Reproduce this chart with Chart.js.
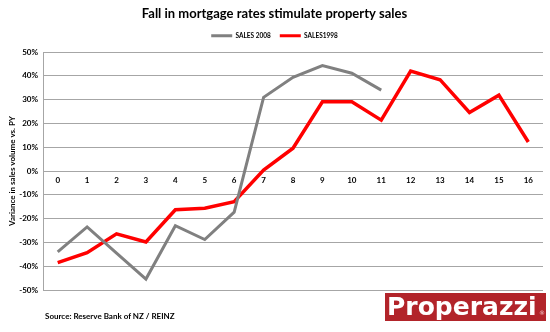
<!DOCTYPE html>
<html>
<head>
<meta charset="utf-8">
<script src="https://cdn.jsdelivr.net/npm/chart.js@4.4.1/dist/chart.umd.min.js"></script>
<style>
  html, body { margin: 0; padding: 0; background: #fff; }
  #wrap { position: relative; width: 550px; height: 332px; }
  #source { position: absolute; left: 45px; top: 311px; font: bold 8px Lato, sans-serif; color: #000; }
  #logo { position: absolute; left: 385px; top: 293px; width: 161px; height: 28px; background: #b2242a; overflow: hidden; }
  #logo .name { position: absolute; left: 2px; top: 0; color: #fff; font: bold 25px "DejaVu Sans", sans-serif;
                line-height: 28px; letter-spacing: 0px; white-space: nowrap; }
  #logo .reg { position: absolute; left: 154px; top: 16px; color: #f3c9cb; font: 6px "DejaVu Sans", sans-serif; }
</style>
</head>
<body>
<div id="wrap">
  <canvas id="chart" width="550" height="332"></canvas>
  <div id="source">Source: Reserve Bank of NZ / REINZ</div>
  <div id="logo"><span class="name">Properazzi</span><span class="reg">®</span></div>
</div>
<script>
const labels = ['0','1','2','3','4','5','6','7','8','9','10','11','12','13','14','15','16'];
// variance in sales volume vs previous year, %
const sales2008 = [-34, -23.5, -34.5, -45.4, -23, -28.8, -17.3, 31, 39.4, 44.3, 41.1, 34];
const sales1998 = [-38.5, -34.3, -26.4, -29.8, -16.3, -15.6, -12.9, 0.4, 9.6, 29.1, 29.1, 21.4, 42, 38.4, 24.6, 31.9, 12.2];

const FONT = 'Lato, sans-serif';

const chart = new Chart(document.getElementById('chart'), {
    type: 'line',
    data: {
        labels: labels,
        datasets: [
            { label: 'SALES 2008', data: sales2008, borderColor: '#808080', backgroundColor: '#808080',
              borderWidth: 3, pointRadius: 0, tension: 0 },
            { label: 'SALES1998', data: sales1998, borderColor: '#ff0000', backgroundColor: '#ff0000',
              borderWidth: 3.5, pointRadius: 0, tension: 0 }
        ]
    },
    options: {
        responsive: false,
        animation: false,
        layout: { padding: { left: 6, right: 7, top: 0, bottom: 42 } },
        plugins: {
            title: {
                display: true,
                text: 'Fall in mortgage rates stimulate property sales',
                color: '#000',
                font: { family: FONT, size: 13, weight: 'bold' },
                padding: { top: 6, bottom: 2 }
            },
            legend: {
                display: true,
                labels: {
                    color: '#000',
                    font: { family: FONT, size: 6.5, weight: 'bold' },
                    boxWidth: 21, boxHeight: 3, padding: 9,
                    // thin line samples like the original, no thick outline
                    generateLabels(c) {
                        return Chart.defaults.plugins.legend.labels.generateLabels(c)
                            .map(item => Object.assign(item, { lineWidth: 0 }));
                    }
                }
            },
            tooltip: { enabled: false }
        },
        scales: {
            x: {
                position: { y: 0 },
                offset: true,
                grid: { display: false, drawTicks: false },
                border: { display: false },
                ticks: { color: '#000', font: { family: FONT, size: 8, weight: 'bold' }, padding: 5, maxRotation: 0 }
            },
            // empty axis on top, only a little gap between legend and plot
            gap: {
                type: 'linear', axis: 'x', position: 'top',
                grid: { display: false, drawTicks: false },
                border: { display: false },
                ticks: { display: false },
                afterFit(scale) { scale.height = 3; }
            },
            y: {
                min: -50, max: 50,
                grid: { color: '#a6a6a6', drawTicks: false },
                border: { color: '#a6a6a6' },
                ticks: { stepSize: 10, color: '#000', padding: 5,
                         font: { family: FONT, size: 8, weight: 'bold' },
                         callback: v => v + '%' },
                title: { display: true, text: 'Variance in sales volume vs. PY', color: '#000',
                         font: { family: FONT, size: 8, weight: 'bold' }, padding: 2 },
                afterFit(scale) { scale.width = 37; }
            }
        }
    }
});
</script>
</body>
</html>
